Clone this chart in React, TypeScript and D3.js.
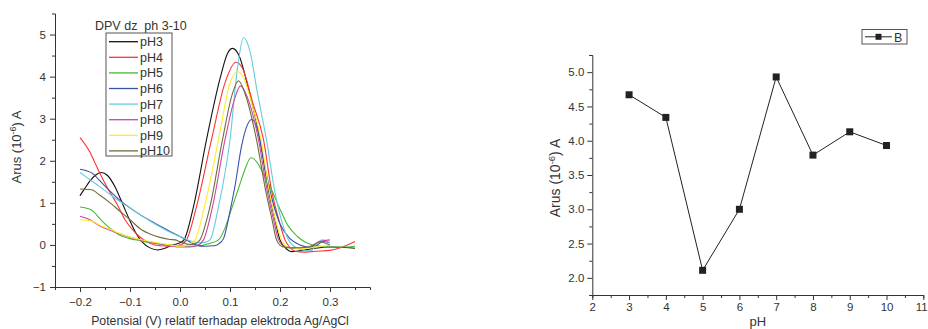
import { useEffect, useRef } from 'react'
import * as d3 from 'd3'

type Pt = [number, number]

// DPV curves, potential (V) vs current (10^-6 A)
const pH3: Pt[] = [[-0.2,1.17],[-0.19,1.35],[-0.18,1.52],[-0.17,1.65],[-0.157,1.72],[-0.145,1.65],[-0.13,1.38],[-0.12,1.12],[-0.11,0.84],[-0.1,0.57],[-0.09,0.32],[-0.075,0.06],[-0.06,-0.07],[-0.045,-0.12],[-0.03,-0.08],[-0.015,0.0],[0.0,0.05],[0.008,0.12],[0.027,0.91],[0.053,2.5],[0.08,3.95],[0.095,4.55],[0.105,4.67],[0.118,4.5],[0.135,3.8],[0.16,2.5],[0.177,1.31],[0.19,0.6],[0.2,0.12],[0.21,-0.06],[0.223,-0.16],[0.24,-0.14],[0.27,-0.08],[0.3,-0.05],[0.33,-0.06],[0.35,-0.08]]
const pH4: Pt[] = [[-0.2,2.55],[-0.18,2.2],[-0.17,1.95],[-0.16,1.7],[-0.143,1.31],[-0.125,0.95],[-0.11,0.6],[-0.09,0.3],[-0.077,0.16],[-0.06,0.04],[-0.04,-0.02],[-0.02,-0.03],[0.0,0.0],[0.013,0.12],[0.033,0.91],[0.063,2.5],[0.09,3.85],[0.112,4.34],[0.125,4.2],[0.145,3.4],[0.167,2.5],[0.183,1.31],[0.2,0.5],[0.21,0.12],[0.22,-0.06],[0.23,-0.15],[0.25,-0.17],[0.27,-0.15],[0.3,-0.13],[0.317,-0.08],[0.335,0.0],[0.35,0.08]]
const pH5: Pt[] = [[-0.2,0.9],[-0.177,0.83],[-0.16,0.62],[-0.15,0.5],[-0.14,0.4],[-0.123,0.25],[-0.1,0.15],[-0.08,0.1],[-0.06,0.05],[-0.04,0.02],[-0.02,0.0],[0.0,-0.02],[0.02,-0.03],[0.04,-0.02],[0.057,0.03],[0.077,0.12],[0.09,0.4],[0.103,0.85],[0.12,1.45],[0.13,1.8],[0.142,2.07],[0.155,1.95],[0.17,1.6],[0.183,1.31],[0.2,0.85],[0.217,0.44],[0.235,0.2],[0.25,0.07],[0.265,0.0],[0.28,-0.03],[0.3,-0.05],[0.33,-0.05],[0.35,-0.03]]
const pH6: Pt[] = [[-0.2,1.8],[-0.175,1.7],[-0.16,1.52],[-0.14,1.28],[-0.12,1.06],[-0.1,0.88],[-0.08,0.72],[-0.06,0.58],[-0.04,0.45],[-0.02,0.32],[0.0,0.2],[0.02,0.07],[0.035,-0.01],[0.05,-0.03],[0.068,-0.02],[0.077,0.02],[0.087,0.15],[0.1,0.8],[0.11,1.4],[0.123,2.34],[0.133,2.8],[0.143,2.98],[0.155,2.75],[0.17,1.85],[0.185,1.05],[0.2,0.5],[0.22,0.15],[0.24,0.0],[0.26,-0.06],[0.275,0.0],[0.285,0.08],[0.3,0.05]]
const pH7: Pt[] = [[-0.2,1.72],[-0.18,1.55],[-0.16,1.38],[-0.14,1.2],[-0.12,1.03],[-0.1,0.88],[-0.08,0.72],[-0.06,0.57],[-0.04,0.43],[-0.02,0.3],[0.0,0.2],[0.02,0.1],[0.04,0.05],[0.05,0.06],[0.06,0.12],[0.077,0.91],[0.1,2.5],[0.115,4.2],[0.127,4.93],[0.14,4.6],[0.155,3.6],[0.173,2.5],[0.189,1.31],[0.205,0.5],[0.217,0.12],[0.23,-0.05],[0.245,-0.12],[0.262,-0.14],[0.275,0.06],[0.285,0.12],[0.3,0.05]]
const pH8: Pt[] = [[-0.2,0.68],[-0.18,0.6],[-0.16,0.45],[-0.14,0.35],[-0.12,0.26],[-0.1,0.18],[-0.08,0.12],[-0.06,0.07],[-0.04,0.02],[-0.02,-0.02],[0.0,-0.05],[0.02,-0.05],[0.035,-0.01],[0.047,0.12],[0.065,0.91],[0.09,2.5],[0.11,3.5],[0.121,3.78],[0.135,3.5],[0.157,2.5],[0.174,1.31],[0.188,0.55],[0.197,0.12],[0.21,-0.04],[0.235,-0.08],[0.26,-0.03],[0.28,0.08],[0.3,0.12]]
const pH9: Pt[] = [[-0.2,0.6],[-0.177,0.57],[-0.16,0.47],[-0.14,0.37],[-0.12,0.27],[-0.1,0.19],[-0.08,0.13],[-0.06,0.08],[-0.04,0.04],[-0.02,0.0],[0.0,-0.03],[0.015,0.0],[0.03,0.12],[0.049,0.91],[0.077,2.5],[0.1,3.85],[0.115,4.12],[0.128,3.95],[0.145,3.3],[0.162,2.5],[0.178,1.31],[0.193,0.5],[0.203,0.12],[0.215,-0.05],[0.24,-0.09],[0.27,-0.05],[0.3,0.0]]
const pH10: Pt[] = [[-0.2,1.33],[-0.177,1.31],[-0.16,1.18],[-0.143,1.03],[-0.12,0.8],[-0.1,0.6],[-0.077,0.36],[-0.06,0.26],[-0.04,0.18],[-0.02,0.13],[-0.01,0.12],[0.0,0.08],[0.02,0.01],[0.03,0.03],[0.04,0.12],[0.06,0.91],[0.085,2.5],[0.105,3.6],[0.117,3.9],[0.13,3.6],[0.153,2.5],[0.171,1.31],[0.185,0.55],[0.193,0.12],[0.205,-0.04],[0.225,-0.07],[0.26,-0.05],[0.28,0.07],[0.3,0.0]]

const curveSeries = [pH3, pH4, pH5, pH6, pH7, pH8, pH9, pH10]
const curveNames = ['pH3', 'pH4', 'pH5', 'pH6', 'pH7', 'pH8', 'pH9', 'pH10']
const curveColors = ['#111111', '#ff3333', '#44bb33', '#3a4fa8', '#66ccdd', '#cc44aa', '#ffee22', '#6e6e3c']

// peak current vs pH
const phValues = [3, 4, 5, 6, 7, 8, 9, 10]
const peakCurrents = [4.67, 4.34, 2.11, 3.0, 4.93, 3.79, 4.13, 3.93]

const leftXTicks = [-0.2, -0.1, 0.0, 0.1, 0.2, 0.3]
const leftYTicks = [-1, 0, 1, 2, 3, 4, 5]
const rightXTicks = [2, 3, 4, 5, 6, 7, 8, 9, 10, 11]
const rightYTicks = [2.0, 2.5, 3.0, 3.5, 4.0, 4.5, 5.0]

const FONT = '"Liberation Sans", Arial, sans-serif'
const AX = '#333'

export default function App() {
  const ref = useRef<SVGSVGElement | null>(null)

  useEffect(() => {
    if (!ref.current) return
    const svg = d3.select(ref.current)
    svg.selectAll('*').remove()
    svg.attr('font-family', FONT)

    const styleAxis = (g: d3.Selection<SVGGElement, unknown, null, undefined>, size: string) => {
      g.select('.domain').attr('stroke', AX)
      g.selectAll('.tick line').attr('stroke', AX)
      g.selectAll('.tick text').attr('fill', AX).attr('font-size', size).attr('font-family', FONT)
    }

    // ---------- left chart ----------
    const x = d3.scaleLinear().domain([-0.25, 0.38]).range([55, 370])
    const y = d3.scaleLinear().domain([-1, 5.5]).range([287, 13.5])

    const L = svg.append('g')
    const xMinor = d3.range(-0.25, 0.36, 0.1).map(v => +v.toFixed(2))
    L.append('g').attr('transform', `translate(0,${y(-1)})`)
      .call(d3.axisBottom(x).tickValues(xMinor).tickSize(3).tickFormat(() => ''))
      .call(g => styleAxis(g, '11px'))
    L.append('g').attr('transform', `translate(0,${y(-1)})`)
      .call(d3.axisBottom(x).tickValues(leftXTicks).tickSize(5).tickPadding(6).tickFormat(d3.format('.1f')))
      .call(g => styleAxis(g, '11.5px'))
      .call(g => g.select('.domain').remove())
    const yMinor = d3.range(-0.5, 5.5, 1)
    L.append('g').attr('transform', `translate(${x(-0.25)},0)`)
      .call(d3.axisLeft(y).tickValues(yMinor).tickSize(3).tickFormat(() => ''))
      .call(g => styleAxis(g, '11px'))
    L.append('g').attr('transform', `translate(${x(-0.25)},0)`)
      .call(d3.axisLeft(y).tickValues(leftYTicks).tickSize(5).tickPadding(4).tickFormat(d3.format('d')))
      .call(g => styleAxis(g, '11.5px'))
      .call(g => g.select('.domain').remove())

    const line = d3.line<Pt>().x(d => x(d[0])).y(d => y(d[1])).curve(d3.curveMonotoneX)
    curveSeries.forEach((s, i) => {
      L.append('path').datum(s).attr('d', line).attr('fill', 'none')
        .attr('stroke', curveColors[i]).attr('stroke-width', 1.1)
    })

    L.append('text').attr('x', 220).attr('y', 325).attr('text-anchor', 'middle')
      .attr('font-size', '12.3px').attr('fill', AX)
      .text('Potensial (V) relatif terhadap elektroda Ag/AgCl')
    const yl = L.append('text').attr('transform', `translate(21,147) rotate(-90)`)
      .attr('text-anchor', 'middle').attr('font-size', '13px').attr('fill', AX)
    yl.append('tspan').text('Arus (10')
    yl.append('tspan').attr('dy', -5).attr('font-size', '9px').text('-6')
    yl.append('tspan').attr('dy', 5).text(') A')

    L.append('text').attr('x', 95).attr('y', 30).attr('font-size', '12.5px').attr('fill', AX)
      .text('DPV dz\u00a0\u00a0ph 3-10')
    const leg = L.append('g')
    leg.append('rect').attr('x', 106).attr('y', 33).attr('width', 66).attr('height', 123)
      .attr('fill', 'white').attr('stroke', '#555').attr('stroke-width', 1)
    curveNames.forEach((n, i) => {
      const cy = 41.7 + i * 15.6
      leg.append('line').attr('x1', 109).attr('x2', 138).attr('y1', cy).attr('y2', cy)
        .attr('stroke', curveColors[i]).attr('stroke-width', 1.3)
      leg.append('text').attr('x', 140).attr('y', cy + 4.5).attr('font-size', '12.5px')
        .attr('fill', AX).text(n)
    })

    // ---------- right chart ----------
    const x2 = d3.scaleLinear().domain([2, 11]).range([592.3, 923.3])
    const y2 = d3.scaleLinear().domain([1.75, 5.25]).range([295, 55])

    const R = svg.append('g')
    R.append('g').attr('transform', `translate(0,${y2(1.75)})`)
      .call(d3.axisBottom(x2).tickValues(d3.range(2.5, 11, 1)).tickSize(3).tickFormat(() => ''))
      .call(g => styleAxis(g, '11px'))
    R.append('g').attr('transform', `translate(0,${y2(1.75)})`)
      .call(d3.axisBottom(x2).tickValues(rightXTicks).tickSize(5).tickPadding(3).tickFormat(d3.format('d')))
      .call(g => styleAxis(g, '11.5px'))
      .call(g => g.select('.domain').remove())
      .call(g => g.selectAll<SVGTextElement, number>('.tick text').filter(d => d === 11).attr('dx', -2))
    R.append('g').attr('transform', `translate(${x2(2)},0)`)
      .call(d3.axisLeft(y2).tickValues(d3.range(1.75, 5.26, 0.5)).tickSize(3).tickFormat(() => ''))
      .call(g => styleAxis(g, '11px'))
    R.append('g').attr('transform', `translate(${x2(2)},0)`)
      .call(d3.axisLeft(y2).tickValues(rightYTicks).tickSize(5).tickPadding(3).tickFormat(d3.format('.1f')))
      .call(g => styleAxis(g, '11.5px'))
      .call(g => g.select('.domain').remove())

    const pts = phValues.map((p, i) => [p, peakCurrents[i]] as Pt)
    R.append('path').datum(pts)
      .attr('d', d3.line<Pt>().x(d => x2(d[0])).y(d => y2(d[1])))
      .attr('fill', 'none').attr('stroke', '#222').attr('stroke-width', 1)
    R.selectAll('rect.pt').data(pts).enter().append('rect').attr('class', 'pt')
      .attr('x', d => x2(d[0]) - 3.5).attr('y', d => y2(d[1]) - 3.5)
      .attr('width', 7).attr('height', 7).attr('fill', '#222')

    R.append('text').attr('x', x2(6.5)).attr('y', 325.5).attr('text-anchor', 'middle')
      .attr('font-size', '13px').attr('fill', AX).text('pH')
    const yl2 = R.append('text').attr('transform', `translate(560,178) rotate(-90)`)
      .attr('text-anchor', 'middle').attr('font-size', '14px').attr('fill', AX)
    yl2.append('tspan').text('Arus (10')
    yl2.append('tspan').attr('dy', -5).attr('font-size', '9.5px').text('-6')
    yl2.append('tspan').attr('dy', 5).text(') A')

    const lg2 = R.append('g')
    lg2.append('rect').attr('x', 862).attr('y', 29.5).attr('width', 45).attr('height', 14.5)
      .attr('fill', 'white').attr('stroke', '#555')
    lg2.append('line').attr('x1', 865).attr('x2', 892).attr('y1', 36.8).attr('y2', 36.8)
      .attr('stroke', '#222')
    lg2.append('rect').attr('x', 875.5).attr('y', 33.8).attr('width', 6).attr('height', 6).attr('fill', '#222')
    lg2.append('text').attr('x', 894).attr('y', 41.5).attr('font-size', '12.5px').attr('fill', AX).text('B')
  }, [])

  return (
    <svg ref={ref} width={928} height={329}
      style={{ position: 'absolute', left: 0, top: 0, background: 'white' }} />
  )
}
